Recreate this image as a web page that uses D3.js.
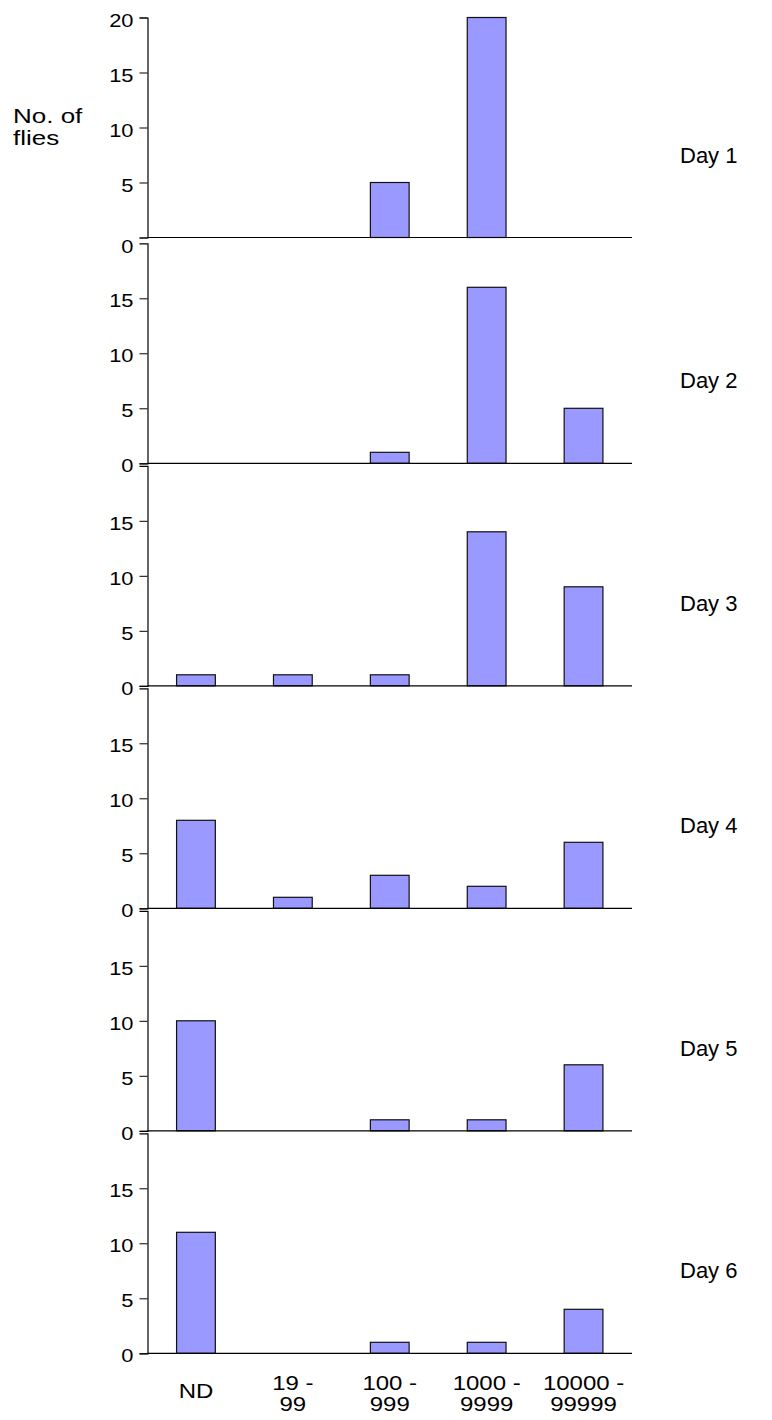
<!DOCTYPE html>
<html>
<head>
<meta charset="utf-8">
<script src="https://cdn.jsdelivr.net/npm/d3@7"></script>
<style>
  body { margin: 0; background: #fff; }
  svg { display: block; font-family: "Liberation Sans", Arial, Helvetica, sans-serif; }
</style>
</head>
<body>
<svg id="chart" width="772" height="1420"></svg>
<script>
// bins of bacterial load (x categories)
const bins = ["ND", "19 - 99", "100 - 999", "1000 - 9999", "10000 - 99999"];
const binLines = [["ND"], ["19 -", "99"], ["100 -", "999"], ["1000 -", "9999"], ["10000 -", "99999"]];
const days = ["Day 1", "Day 2", "Day 3", "Day 4", "Day 5", "Day 6"];

// number of flies per bin, one array per day
const day1 = [0, 0, 5, 20, 0];
const day2 = [0, 0, 1, 16, 5];
const day3 = [1, 1, 1, 14, 9];
const day4 = [8, 1, 3, 2, 6];
const day5 = [10, 0, 1, 1, 6];
const day6 = [11, 0, 1, 1, 4];
const counts = [day1, day2, day3, day4, day5, day6];

const firstTicks = [0, 5, 10, 15, 20];
const otherTicks = [0, 5, 10, 15];

const svg = d3.select("#chart");

const left = 147.5, right = 632;
const plotH = 220;
// the original text is a bit stretched sideways
const stretch = 1.2;
// baseline of each panel
const baselines = days.map((d, i) => i === 0 ? 237.5 : 463.3 + 222.5 * (i - 1));

const x = d3.scaleBand()
  .domain(bins)
  .range([left, right])
  .paddingInner(0.6)
  .paddingOuter(0.3);

days.forEach((day, i) => {
  const base = baselines[i];
  const y = d3.scaleLinear().domain([0, 20]).range([base, base - plotH]);
  const g = svg.append("g");

  // bars
  g.selectAll("rect")
    .data(bins.map((b, j) => ({ bin: b, v: counts[i][j] })).filter(d => d.v > 0))
    .enter()
    .append("rect")
    .attr("x", d => x(d.bin))
    .attr("y", d => y(d.v))
    .attr("width", x.bandwidth())
    .attr("height", d => y(0) - y(d.v))
    .attr("fill", "#9999ff")
    .attr("stroke", "#111")
    .attr("stroke-width", 1.2);

  // baseline
  g.append("line")
    .attr("x1", left).attr("x2", right)
    .attr("y1", y(0)).attr("y2", y(0))
    .attr("stroke", "#000")
    .attr("stroke-width", 1.2);

  // y axis
  const ax = g.append("g")
    .attr("transform", `translate(${left},0)`)
    .call(d3.axisLeft(y)
      .tickValues(i === 0 ? firstTicks : otherTicks)
      .tickSize(8)
      .tickSizeOuter(8)
      .tickPadding(6));
  ax.select(".domain").attr("stroke", "#000").attr("stroke-width", 1.2);
  ax.selectAll(".tick line").attr("stroke", "#000");
  ax.selectAll(".tick text")
    .attr("font-size", 19)
    .attr("font-family", "\"Liberation Sans\", Arial, sans-serif")
    .attr("fill", "#000")
    .attr("x", -14 / 1.15)
    .attr("transform", "scale(1.15,1)")
    .attr("dy", d => (i === 0 && d === 0) ? "0.8em" : "0.45em");

  // day label
  svg.append("text")
    .attr("x", 680)
    .attr("y", base - 75)
    .attr("font-size", 22)
    .attr("fill", "#000")
    .text(day);
});

// y title
const yTitle = svg.append("text")
  .attr("transform", `translate(13,123) scale(1.3,1)`)
  .attr("font-size", 20)
  .attr("fill", "#000");
yTitle.append("tspan").attr("x", 0).text("No. of");
yTitle.append("tspan").attr("x", 0).attr("dy", 22).text("flies");

// x category labels
const lastBase = baselines[baselines.length - 1];
binLines.forEach((lines, j) => {
  const cx = x(bins[j]) + x.bandwidth() / 2;
  const t = svg.append("text")
    .attr("transform", `translate(${cx},${lines.length === 1 ? lastBase + 45 : lastBase + 37}) scale(${stretch},1)`)
    .attr("text-anchor", "middle")
    .attr("font-size", 20)
    .attr("fill", "#000");
  lines.forEach((s, k) => {
    t.append("tspan").attr("x", 0).attr("dy", k === 0 ? 0 : 21).text(s);
  });
});
</script>
</body>
</html>
